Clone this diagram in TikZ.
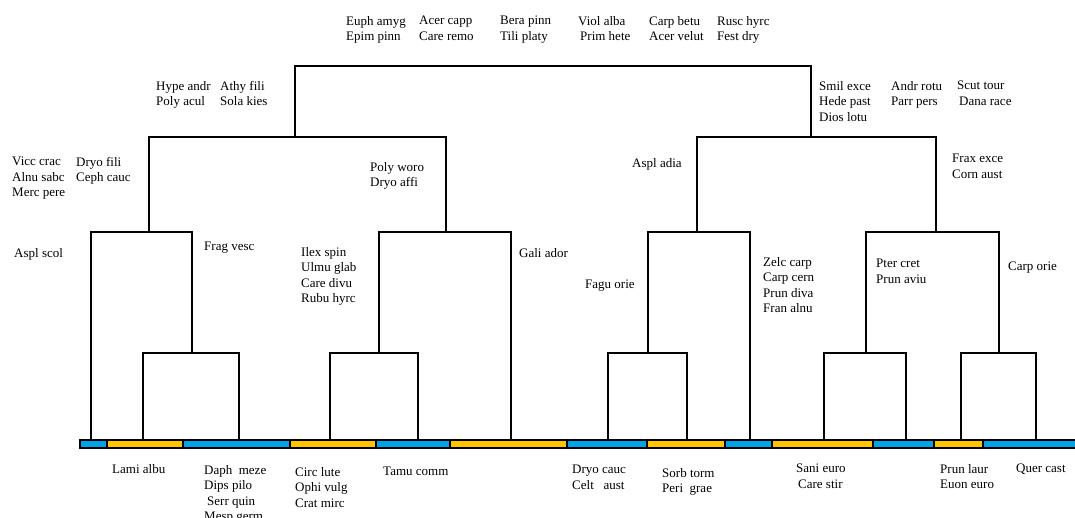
\documentclass[tikz,border=0pt]{standalone}
\usepackage{fontspec}
\setmainfont{Liberation Serif}
\definecolor{barblue}{RGB}{0,162,232}
\definecolor{baryellow}{RGB}{255,198,0}
\begin{document}
\begin{tikzpicture}[x=1pt,y=-1pt,
  branch/.style={draw=black,line width=2.5pt,line join=miter},
  seg/.style={draw=black,line width=1.6pt},
  lbl/.style={anchor=north west,align=left,inner sep=0pt,font=\fontsize{13}{15.4}\selectfont},
]
\useasboundingbox (0,0) rectangle (1075,518);
% ---- colour bar ----
\foreach \a/\b/\c [count=\i] in {80/107/barblue,107/183/baryellow,183/290/barblue,290/376/baryellow,376/450/barblue,450/567/baryellow,567/647/barblue,647/725/baryellow,725/772/barblue,772/873/baryellow,873/934/barblue,934/983/baryellow,983/1076/barblue}
  \draw[seg,fill=\c] (\a,440) rectangle (\b,448);
% ---- leaves ----
\coordinate (l1) at (91,440);
\coordinate (l2) at (143,440);
\coordinate (l3) at (239,440);
\coordinate (l4) at (330,440);
\coordinate (l5) at (418,440);
\coordinate (l6) at (511,440);
\coordinate (l7) at (608,440);
\coordinate (l8) at (687,440);
\coordinate (l9) at (750,440);
\coordinate (l10) at (824,440);
\coordinate (l11) at (906,440);
\coordinate (l12) at (961,440);
\coordinate (l13) at (1036,440);
% ---- junctions ----
\coordinate (n4a) at (192,353);
\coordinate (n4b) at (379,353);
\coordinate (n4c) at (648,353);
\coordinate (n4d) at (866,353);
\coordinate (n4e) at (999,353);
\coordinate (n3a) at (149,232);
\coordinate (n3b) at (446,232);
\coordinate (n3c) at (697,232);
\coordinate (n3d) at (936,232);
\coordinate (n2a) at (295,137);
\coordinate (n2b) at (811,137);
\coordinate (n1) at (553,66);
% ---- tree ----
\draw[branch] (l2) |- (n4a) -| (l3);
\draw[branch] (l4) |- (n4b) -| (l5);
\draw[branch] (l7) |- (n4c) -| (l8);
\draw[branch] (l10) |- (n4d) -| (l11);
\draw[branch] (l12) |- (n4e) -| (l13);
\draw[branch] (l1) |- (n3a) -| (n4a);
\draw[branch] (n4b) |- (n3b) -| (l6);
\draw[branch] (n4c) |- (n3c) -| (l9);
\draw[branch] (n4d) |- (n3d) -| (n4e);
\draw[branch] (n3a) |- (n2a) -| (n3b);
\draw[branch] (n3c) |- (n2b) -| (n3d);
\draw[branch] (n2a) |- (n1) -| (n2b);
% ---- labels: top ----
\node[lbl] (t1) at (346,16) {Euph amyg\\Epim pinn};
\node[lbl] (t2) at (419,16) {Acer capp\\Care remo};
\node[lbl] (t3) at (500,16) {Bera pinn\\Tili platy};
\node[lbl] (t4) at (578,16) {Viol alba\\\hspace{2pt}Prim hete};
\node[lbl] (t5) at (649,16) {Carp betu\\Acer velut};
\node[lbl] (t6) at (717,16) {Rusc hyrc\\Fest dry};
% second row
\node[lbl] (h1) at (156,81) {Hype andr\\Poly acul};
\node[lbl] (h2) at (220,81) {Athy fili\\Sola kies};
\node[lbl] (s1) at (819,81) {Smil exce\\Hede past\\Dios lotu};
\node[lbl] (s2) at (891,81) {Andr rotu\\Parr pers};
\node[lbl] (s3) at (957,81) {Scut tour\\\hspace{2pt}Dana race};
% third row
\node[lbl] (v1) at (12,157) {Vicc crac\\Alnu sabc\\Merc pere};
\node[lbl] (v2) at (76,157) {Dryo fili\\Ceph cauc};
\node[lbl] (p1) at (370,162) {Poly woro\\Dryo affi};
\node[lbl] (a1) at (632,158) {Aspl adia};
\node[lbl] (f1) at (952,154) {Frax exce\\Corn aust};
% fourth row
\node[lbl] (a2) at (14,248) {Aspl scol};
\node[lbl] (f2) at (204,242) {Frag vesc};
\node[lbl] (i1) at (301,247) {Ilex spin\\Ulmu glab\\Care divu\\Rubu hyrc};
\node[lbl] (g1) at (519,248) {Gali ador};
\node[lbl] (f3) at (585,280) {Fagu orie};
\node[lbl] (z1) at (763,257) {Zelc carp\\Carp cern\\Prun diva\\Fran alnu};
\node[lbl] (p2) at (876,259) {Pter cret\\Prun aviu};
\node[lbl] (c1) at (1008,262) {Carp orie};
% bottom
\node[lbl] (b1) at (112,464) {Lami albu};
\node[lbl] (b2) at (204,465) {Daph\ \ meze\\Dips pilo\\\hspace{3pt}Serr quin\\Mesp germ};
\node[lbl] (b3) at (295,467) {Circ lute\\Ophi vulg\\Crat mirc};
\node[lbl] (b4) at (383,467) {Tamu comm};
\node[lbl] (b5) at (572,465) {Dryo cauc\\Celt\ \ \ aust};
\node[lbl] (b6) at (662,468) {Sorb torm\\Peri\ \ grae};
\node[lbl] (b7) at (796,464) {Sani euro\\\hspace{2pt}Care stir};
\node[lbl] (b8) at (940,464) {Prun laur\\Euon euro};
\node[lbl] (b9) at (1016,464) {Quer cast};
\end{tikzpicture}
\end{document}
